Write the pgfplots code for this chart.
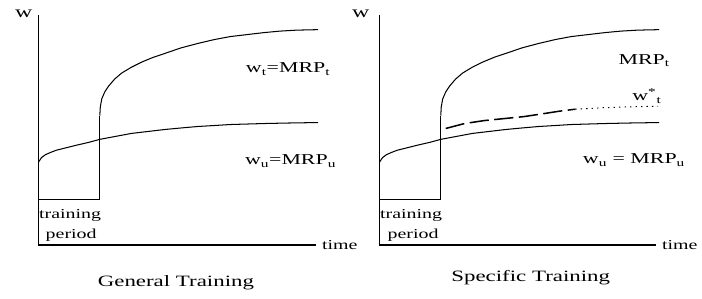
\documentclass[border=0pt]{standalone}
\usepackage{pgfplots}
\pgfplotsset{compat=1.18}
\usepackage{pgfplotstable}
\usepackage{fontspec}
\setmainfont[FakeStretch=1.45]{Liberation Serif}

\pgfplotstableread{
x y
101 117
101.5 108
103 100
106 93
110 87
116 80
123 74
133 68
143 63
155 58
167 54
183 48.5
200 44
217 40
233 37
250 35
267 33
283 31.5
300 30.5
322 30
}\trained

\pgfplotstableread{
x y
39 164
42 159.5
46 156.5
51 154.3
57 152
67 149.5
77 147
90 144
101 141
117 138
133 135
150 133
167 131
183 129.5
200 128
217 127
233 126
250 125.5
267 125
290 124.5
322 124
}\untrained

\pgfplotstableread{
x y
451 130
470 125
490 122
510 120
530 118
550 115
566 112.5
582 110.5
}\wstardash

\pgfplotstableread{
x y
582 110.5
610 109
640 108
666 107.5
}\wstardot

\begin{document}
\begin{tikzpicture}
\begin{axis}[
  scale only axis, width=505.44pt, height=217.44pt,
  xmin=0, xmax=702, ymin=0, ymax=302, y dir=reverse,
  hide axis, clip=false,
  every node/.style={font=\fontsize{10}{12}\selectfont, inner sep=0pt},
]
\path (rel axis cs:0,0) rectangle (rel axis cs:1,1);
% axes and training boxes
\addplot[black, line width=1.1pt] coordinates {(39,15) (39,248) (320,248)};
\addplot[black, line width=1.1pt] coordinates {(384,15) (384,248) (664,248)};
\addplot[black, line width=0.9pt] coordinates {(39,202) (101,202) (101,117)};
\addplot[black, line width=0.9pt] coordinates {(384,202) (446,202) (446,117)};
% left curves
\addplot[black, line width=0.75pt] table[x=x,y=y] {\trained};
\addplot[black, line width=0.75pt] table[x=x,y=y] {\untrained};
% right curves
\addplot[black, line width=0.75pt] table[x expr=\thisrow{x}+345,y=y] {\trained};
\addplot[black, line width=0.75pt] table[x expr=\thisrow{x}+345,y=y] {\untrained};
\addplot[black, line width=1.1pt, dash pattern=on 14pt off 4pt] table[x=x,y=y] {\wstardash};
\addplot[black, line width=0.7pt, dash pattern=on 1pt off 3pt] table[x=x,y=y] {\wstardot};
% left labels
\node[font=\fontsize{12}{14}\selectfont] at (axis cs:24,14) {w};
\node[anchor=west, font=\fontsize{11}{13}\selectfont] at (axis cs:244,70) {w\textsubscript{t}=MRP\textsubscript{t}};
\node[anchor=west, font=\fontsize{11}{13}\selectfont] at (axis cs:243,163) {w\textsubscript{u}=MRP\textsubscript{u}};
\node at (axis cs:71,218) {training};
\node at (axis cs:72,238) {period};
\node[anchor=west] at (axis cs:321,248) {time};
\node[font=\fontsize{11.5}{13}\selectfont] at (axis cs:178,286) {General Training};
% right labels
\node[font=\fontsize{12}{14}\selectfont] at (axis cs:365,14) {w};
\node[anchor=west, font=\fontsize{11}{13}\selectfont] at (axis cs:621,61) {MRP\textsubscript{t}};
\node[anchor=west, font=\fontsize{11}{13}\selectfont] at (axis cs:635,97) {w\textsuperscript{*}\textsubscript{t}};
\node[anchor=west, font=\fontsize{11}{13}\selectfont] at (axis cs:585,162) {w\textsubscript{u} = MRP\textsubscript{u}};
\node at (axis cs:416,218) {training};
\node at (axis cs:418,238) {period};
\node[anchor=west] at (axis cs:665,248) {time};
\node[font=\fontsize{11.5}{13}\selectfont] at (axis cs:537,281) {Specific Training};
\end{axis}
\end{tikzpicture}
\end{document}
